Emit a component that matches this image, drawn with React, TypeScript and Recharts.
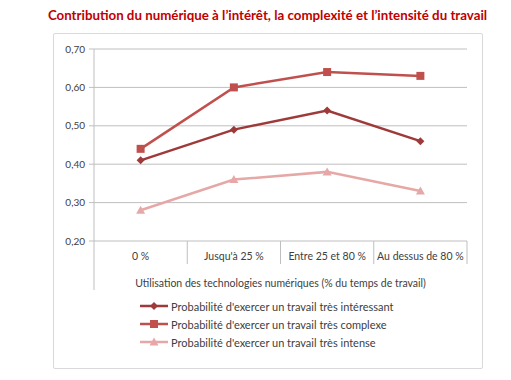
import { CartesianGrid, Line, LineChart, XAxis, YAxis } from "recharts";

const categories = ["0 %", "Jusqu'à 25 %", "Entre 25 et 80 %", "Au dessus de 80 %"];
const interessant = [0.41, 0.49, 0.54, 0.46];
const complexe = [0.44, 0.6, 0.64, 0.63];
const intense = [0.28, 0.36, 0.38, 0.33];
const yTicks = [0.2, 0.3, 0.4, 0.5, 0.6, 0.7];

const series = [
	{ key: "interessant", name: "Probabilité d'exercer un travail très intéressant", color: "#9E3A3A", shape: "diamond" },
	{ key: "complexe", name: "Probabilité d'exercer un travail très complexe", color: "#C0504D", shape: "square" },
	{ key: "intense", name: "Probabilité d'exercer un travail très intense", color: "#E6A8A7", shape: "triangle" },
];

const data = categories.map((cat, i) => ({
	cat,
	interessant: interessant[i],
	complexe: complexe[i],
	intense: intense[i],
}));

const FONT = "Lato, 'Open Sans', sans-serif";
const GRID = "#BFBFBF";
const TEXT = "#404040";

function Marker({ cx, cy, shape, color }: { cx: number; cy: number; shape: string; color: string }) {
	if (shape === "diamond") {
		return <path d={`M${cx},${cy - 4}L${cx + 4},${cy}L${cx},${cy + 4}L${cx - 4},${cy}Z`} fill={color} />;
	}
	if (shape === "square") {
		return <rect x={cx - 4} y={cy - 4} width={8} height={8} fill={color} />;
	}
	return <path d={`M${cx},${cy - 4.5}L${cx + 4.5},${cy + 3.5}L${cx - 4.5},${cy + 3.5}Z`} fill={color} />;
}

// category label plus the Excel-style separators between categories
function CatTick(props: any) {
	const { x, y, payload, index } = props;
	const half = payload.offset ?? 0;
	const left = x - half;
	const right = x + half;
	return (
		<g>
			<line x1={left} y1={y} x2={left} y2={y + (index === 0 ? 49 : 23)} stroke={GRID} />
			{index === categories.length - 1 && <line x1={right} y1={y} x2={right} y2={y + 23} stroke={GRID} />}
			<text x={x} y={y + 19} textAnchor="middle" fill={TEXT} fontSize={10.5} fontFamily={FONT}>
				{payload.value}
			</text>
		</g>
	);
}

export default function App() {
	return (
		<div style={{ position: "absolute", left: 0, top: 0, width: 511, height: 380, background: "#fff", fontFamily: FONT }}>
			<div
				style={{
					position: "absolute",
					left: 0,
					top: 7,
					width: 535,
					textAlign: "center",
					color: "#C00000",
					fontWeight: 700,
					fontSize: 13.3,
				}}
			>
				Contribution du numérique à l’intérêt, la complexité et l’intensité du travail
			</div>
			<div
				style={{
					position: "absolute",
					left: 53,
					top: 33,
					width: 428,
					height: 334,
					border: "1px solid #D9D9D9",
					borderRadius: 2,
				}}
			/>
			<div style={{ position: "absolute", left: 0, top: 0 }}>
				<LineChart width={511} height={380} data={data} margin={{ top: 49, right: 44, left: 54, bottom: 89 }}>
					<CartesianGrid horizontal vertical={false} stroke={GRID} />
					<XAxis
						dataKey="cat"
						scale="band"
						height={50}
						axisLine={false}
						tickLine={false}
						tickSize={0}
						tickMargin={0}
						interval={0}
						tick={<CatTick />}
						label={{
							value: "Utilisation des technologies numériques (% du temps de travail)",
							position: "insideBottom",
							offset: 4,
							fill: TEXT,
							fontSize: 10.5,
							fontFamily: FONT,
						}}
					/>
					<YAxis
						width={40}
						domain={[0.2, 0.7]}
						ticks={yTicks}
						axisLine={{ stroke: GRID }}
						tickLine={{ stroke: GRID }}
						tickSize={5}
						tickMargin={4}
						tickFormatter={(v: number) => v.toFixed(2).replace(".", ",")}
						tick={{ fill: TEXT, fontSize: 10, fontFamily: FONT }}
					/>
					{series.map((s) => (
						<Line
							key={s.key}
							dataKey={s.key}
							name={s.name}
							stroke={s.color}
							strokeWidth={2.5}
							isAnimationActive={false}
							dot={(p: any) => <Marker key={`${s.key}-${p.index}`} cx={p.cx} cy={p.cy} shape={s.shape} color={s.color} />}
							activeDot={false}
						/>
					))}
				</LineChart>
			</div>
			<div style={{ position: "absolute", left: 140, top: 297, fontSize: 11, color: TEXT }}>
				{series.map((s) => (
					<div key={s.key} style={{ display: "flex", alignItems: "center", height: 18 }}>
						<svg width={30} height={10} style={{ marginRight: 1 }}>
							<line x1={0} y1={5} x2={28} y2={5} stroke={s.color} strokeWidth={2.5} />
							<Marker cx={14} cy={5} shape={s.shape} color={s.color} />
						</svg>
						<span>{s.name}</span>
					</div>
				))}
			</div>
		</div>
	);
}
